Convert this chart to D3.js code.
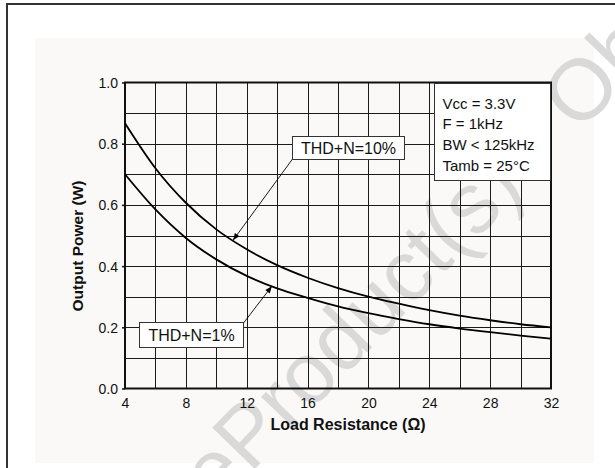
<!DOCTYPE html>
<html>
<head>
<meta charset="utf-8">
<script src="https://cdn.jsdelivr.net/npm/d3@7"></script>
<style>
  html, body { margin: 0; padding: 0; background: #fff; }
  svg { display: block; }
  text { font-family: "Liberation Sans", Arial, Helvetica, sans-serif; }
</style>
</head>
<body>
<svg id="chart" width="615" height="468"></svg>
<script>
// Load resistance (ohm) and output power (W) for the two distortion limits
const loadOhm   = [4, 6, 8, 10, 12, 14, 16, 18, 20, 22, 24, 26, 28, 30, 32];
const thd10     = [0.867, 0.720, 0.607, 0.520, 0.455, 0.403, 0.362, 0.328, 0.300, 0.277, 0.256, 0.238, 0.223, 0.210, 0.200];
const thd1      = [0.700, 0.585, 0.492, 0.422, 0.368, 0.327, 0.296, 0.268, 0.246, 0.227, 0.210, 0.196, 0.184, 0.173, 0.163];
const xTicks    = [4, 8, 12, 16, 20, 24, 28, 32];
const yTicks    = [0.0, 0.2, 0.4, 0.6, 0.8, 1.0];
const conditions = ["Vcc = 3.3V", "F = 1kHz", "BW < 125kHz", "Tamb = 25\u00B0C"];
const seriesLabels = ["THD+N=10%", "THD+N=1%"];
// load value where each callout arrow lands on its curve
const calloutAt = [11.1, 13.65];

const svg = d3.select("#chart");

// outer frame and panel
svg.append("rect").attr("x", 35).attr("y", 38).attr("width", 559).attr("height", 425)
  .attr("fill", "#faf9f7");
svg.append("rect").attr("x", 7).attr("y", 4).attr("width", 700).attr("height", 600)
  .attr("fill", "none").attr("stroke", "#333").attr("stroke-width", 2);

const m = { left: 125, right: 551, top: 82.5, bottom: 388.5 };
const x = d3.scaleLinear().domain([4, 32]).range([m.left, m.right]);
const y = d3.scaleLinear().domain([0, 1]).range([m.bottom, m.top]);

// watermark
const wm = svg.append("g").attr("transform", "translate(250,474) rotate(-46)")
  .attr("fill", "#d9d9d9").style("font-size", "86px");
wm.append("text").attr("text-anchor", "end").text("Obsolete ");
wm.append("text").attr("text-anchor", "start").text("Product(s) - Obsolete Product(s)");

// grid
const grid = svg.append("g").attr("stroke", "#1a1a1a").attr("stroke-width", 1);
grid.selectAll("line.v").data(d3.range(6, 32, 2)).join("line")
  .attr("x1", d => Math.round(x(d)) + 0.5).attr("x2", d => Math.round(x(d)) + 0.5)
  .attr("y1", m.top).attr("y2", m.bottom);
grid.selectAll("line.h").data(d3.range(1, 10).map(i => i / 10)).join("line")
  .attr("y1", d => Math.round(y(d)) + 0.5).attr("y2", d => Math.round(y(d)) + 0.5)
  .attr("x1", m.left).attr("x2", m.right);

// axes
const xAxis = d3.axisBottom(x).tickValues(xTicks).tickSize(0).tickPadding(10)
  .tickFormat(d3.format("d"));
const yAxis = d3.axisLeft(y).tickValues(yTicks).tickSize(3).tickPadding(4)
  .tickFormat(d3.format(".1f"));
const gx = svg.append("g").attr("transform", `translate(0,${m.bottom})`).call(xAxis);
const gy = svg.append("g").attr("transform", `translate(${m.left},0)`).call(yAxis);
[gx, gy].forEach(g => {
  g.select(".domain").remove();
  g.selectAll("text").attr("fill", "#111").style("font-size", "14px")
    .style("font-family", "'Liberation Sans', Arial, sans-serif");
  g.selectAll("line").attr("stroke", "#111").attr("stroke-width", 1.5);
});
gy.selectAll("text").attr("dy", "0.35em");

// plot frame
svg.append("rect").attr("x", m.left).attr("y", m.top)
  .attr("width", m.right - m.left).attr("height", m.bottom - m.top)
  .attr("fill", "none").attr("stroke", "#111").attr("stroke-width", 2);

// axis titles
svg.append("text").attr("x", 348).attr("y", 430).attr("text-anchor", "middle")
  .style("font-size", "16px").style("font-weight", "bold").attr("fill", "#111")
  .text("Load Resistance (\u03A9)");
svg.append("text").attr("transform", "translate(83,246) rotate(-90)").attr("text-anchor", "middle")
  .style("font-size", "15.5px").style("font-weight", "bold").attr("fill", "#111")
  .text("Output Power (W)");

// curves
const line = d3.line().x(d => x(d[0])).y(d => y(d[1])).curve(d3.curveMonotoneX);
const series = [thd10, thd1];
svg.append("g").selectAll("path").data(series).join("path")
  .attr("d", s => line(loadOhm.map((r, i) => [r, s[i]])))
  .attr("fill", "none").attr("stroke", "#000").attr("stroke-width", 1.8);

// conditions box
const cb = svg.append("g");
cb.append("rect").attr("x", 434.5).attr("y", 83.5).attr("width", 116).attr("height", 97)
  .attr("fill", "#fff").attr("stroke", "#333").attr("stroke-width", 1);
cb.selectAll("text").data(conditions).join("text")
  .attr("x", 442.5).attr("y", (d, i) => 108.5 + i * 20.7)
  .style("font-size", "15px").attr("fill", "#111").text(d => d);

// callouts
const defs = svg.append("defs");
defs.append("marker").attr("id", "ah").attr("viewBox", "0 0 10 10")
  .attr("refX", 10).attr("refY", 5).attr("markerWidth", 9).attr("markerHeight", 7)
  .attr("markerUnits", "userSpaceOnUse").attr("orient", "auto")
  .append("path").attr("d", "M0,1 L10,5 L0,9 Z").attr("fill", "#000");

const interp = (s, r) => {
  const i = d3.bisectRight(loadOhm, r) - 1;
  const t = (r - loadOhm[i]) / (loadOhm[i + 1] - loadOhm[i]);
  return s[i] + t * (s[i + 1] - s[i]);
};

const boxes = [
  { x: 292.5, y: 136.5, w: 112, h: 23, ax: 292.5, ay: 159 },
  { x: 139.5, y: 322.5, w: 104, h: 25, ax: 243.5, ay: 323 }
];
boxes.forEach((b, k) => {
  const tx = x(calloutAt[k]), ty = y(interp(series[k], calloutAt[k]));
  svg.append("line").attr("x1", b.ax).attr("y1", b.ay).attr("x2", tx).attr("y2", ty)
    .attr("stroke", "#000").attr("stroke-width", 0.9).attr("marker-end", "url(#ah)");
  svg.append("rect").attr("x", b.x).attr("y", b.y).attr("width", b.w).attr("height", b.h)
    .attr("fill", "#fff").attr("stroke", "#333").attr("stroke-width", 1);
  svg.append("text").attr("x", b.x + b.w / 2).attr("y", b.y + b.h / 2 + 5.6)
    .attr("text-anchor", "middle").style("font-size", "16px").attr("fill", "#111")
    .text(seriesLabels[k]);
});
</script>
</body>
</html>
